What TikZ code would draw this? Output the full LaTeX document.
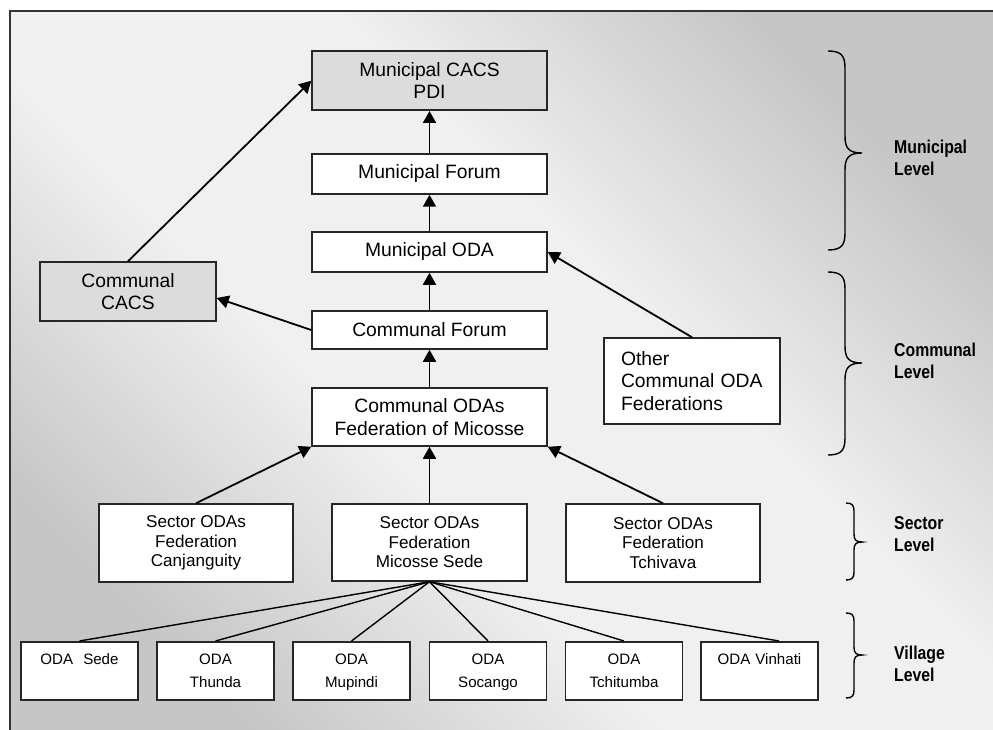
\documentclass[tikz,border=0pt]{standalone}
\usepackage{fontspec}
\setmainfont{Liberation Sans}
\newfontfamily\lvlfont[FakeStretch=0.85]{Liberation Sans}
\usetikzlibrary{arrows.meta}
\definecolor{bgdark}{HTML}{C6C6C6}
\definecolor{bglight}{HTML}{F0F0F0}
\definecolor{boxgray}{HTML}{DCDCDC}
\pgfdeclareverticalshading{bgshade}{100bp}{color(0bp)=(bgdark); color(25bp)=(bgdark); color(42bp)=(bglight); color(58bp)=(bglight); color(75bp)=(bgdark); color(100bp)=(bgdark)}
\newcommand{\mybrace}[5]{%
  \draw[bracepath] (#1,#2) .. controls ({#1+0.8*#5},#2) and ({#1+#5},{#2+0.3*#5}) .. ({#1+#5},{#2+#5})
    -- ({#1+#5},{#3-#5}) .. controls ({#1+#5},{#3-0.3*#5}) and ({#1+1.2*#5},#3) .. ({#1+2*#5},#3)
    .. controls ({#1+1.2*#5},#3) and ({#1+#5},{#3+0.3*#5}) .. ({#1+#5},{#3+#5})
    -- ({#1+#5},{#4-#5}) .. controls ({#1+#5},{#4-0.3*#5}) and ({#1+0.8*#5},#4) .. (#1,#4);}
\tikzset{
  box/.style={draw=black!85, line width=1.5pt, fill=white, inner sep=0pt,
    font=\fontsize{19.3}{22.5}\selectfont, align=center},
  graybox/.style={box, fill=boxgray},
  sectorbox/.style={box, font=\fontsize{17.1}{19.4}\selectfont, minimum width=194pt, minimum height=78pt},
  village/.style={draw=black!85, line width=1.5pt, fill=white, anchor=north,
    font=\fontsize{15.1}{23}\selectfont, text width=117pt, align=center,
    inner xsep=0pt, inner ysep=2pt, text height=21pt, text depth=33pt},
  arr/.style={line width=1.8pt, -{Triangle[length=12pt,width=13pt]}},
  link/.style={line width=1.4pt},
  bracepath/.style={line width=1.4pt},
  lvl/.style={font=\lvlfont\bfseries\fontsize{18.6}{21.7}\selectfont, align=left, anchor=west, inner sep=0pt},
}
\begin{document}
\begin{tikzpicture}[x=1pt,y=-1pt]
\useasboundingbox (0,0) rectangle (993,730);
\shade[shading=bgshade, shading angle=-45] (10,11) rectangle (1003,741);
\draw[line width=2pt, black!80] (10,11) rectangle (1003,741);

% municipal / communal column
\node[graybox, minimum width=235pt, minimum height=59pt] (mcacs) at (429.5,80.75) {Municipal CACS\\PDI};
\node[box, minimum width=235pt, minimum height=40pt] (mforum) at (429.5,174) {Municipal Forum};
\node[box, minimum width=235pt, minimum height=40pt] (moda) at (429.5,252) {Municipal ODA};
\node[box, minimum width=235pt, minimum height=38pt] (cforum) at (429.5,330) {Communal Forum};
\node[box, minimum width=235pt, minimum height=58pt] (coda) at (429.5,417) {Communal ODAs\\Federation of Micosse};
\node[graybox, minimum width=176pt, minimum height=59pt] (cacs) at (128,291.5) {Communal\\CACS};
\node[box, minimum width=176pt, minimum height=86pt, text width=142pt, inner xsep=17pt, align=left] (other) at (692,381) {Other\\Communal ODA\\Federations};

% sector
\node[sectorbox] (can) at (196,543) {Sector ODAs\\Federation\\Canjanguity};
\node[sectorbox, minimum width=195pt, minimum height=77pt] (mic) at (429.5,542.5) {Sector ODAs\\Federation\\Micosse Sede};
\node[sectorbox] (tch) at (663,543) {Sector ODAs\\Federation\\Tchivava};

% villages
\node[village] (v1) at (79.5,641) {ODA\ \ Sede};
\node[village] (v2) at (215.5,641) {ODA\\Thunda};
\node[village] (v3) at (351.5,641) {ODA\\Mupindi};
\node[village] (v4) at (488,641) {ODA\\Socango};
\node[village] (v5) at (624,641) {ODA\\Tchitumba};
\node[village] (v6) at (759.5,641) {ODA Vinhati};

% arrows
\draw[arr] (mforum.north) -- (mcacs.south);
\draw[arr] (moda.north) -- (mforum.south);
\draw[arr] (cforum.north) -- (moda.south);
\draw[arr] (coda.north) -- (cforum.south);
\draw[arr] (mic.north) -- (coda.south);
\draw[arr] (can.north) -- (coda.south west);
\draw[arr] (tch.north) -- (coda.south east);
\draw[arr] (other.north) -- (moda.east);
\draw[arr] (cforum.west) -- ([yshift=-6.5pt]cacs.east);
\draw[arr] (cacs.north) -- (mcacs.west);

% village links
\draw[link] (mic.south) -- (v1.north);
\draw[link] (mic.south) -- (v2.north);
\draw[link] (mic.south) -- (v3.north);
\draw[link] (mic.south) -- (v4.north);
\draw[link] (mic.south) -- (v5.north);
\draw[link] (mic.south) -- ([xshift=19.5pt]v6.north);

% braces
\mybrace{828}{51}{153}{250}{17}
\mybrace{828}{272}{363}{455}{17}
\mybrace{846}{503}{542}{580}{8}
\mybrace{846}{613}{655}{698}{8}

% level labels
\node[lvl] (lmun) at (894,158) {Municipal\\Level};
\node[lvl] (lcom) at (894,361) {Communal\\Level};
\node[lvl] (lsec) at (894,534) {Sector\\Level};
\node[lvl] (lvil) at (894,663.5) {Village\\Level};
\end{tikzpicture}
\end{document}
